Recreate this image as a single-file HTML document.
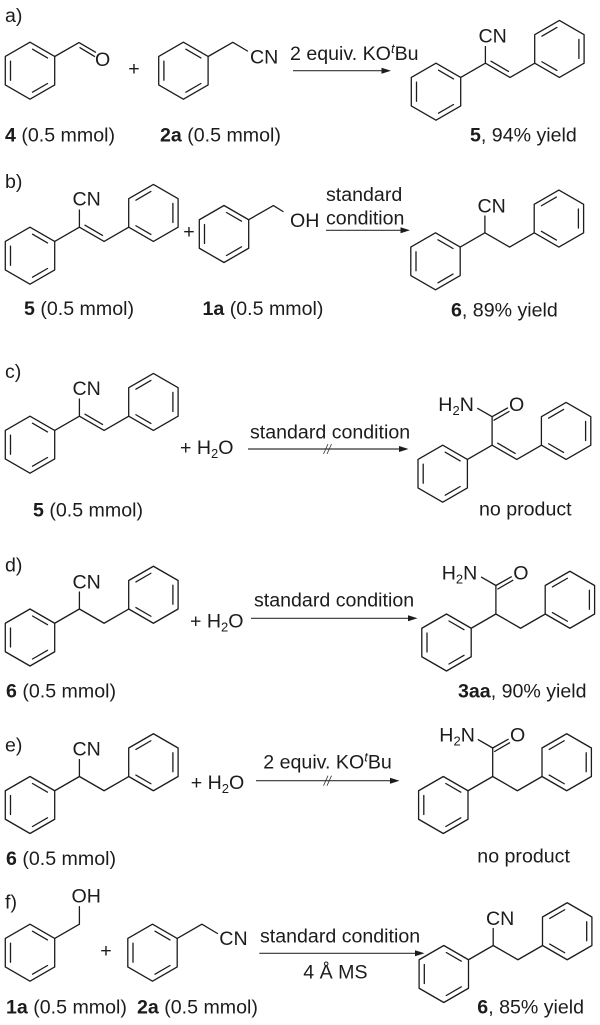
<!DOCTYPE html>
<html><head><meta charset="utf-8"><style>
html,body{margin:0;padding:0;background:#fff}
svg{display:block}
text{font-family:"Liberation Sans",Arial,sans-serif;font-size:19.6px;fill:#1c1c1c}
.b{font-weight:bold}
.ln{fill:none;stroke:#1c1c1c;stroke-width:1.3;stroke-linecap:round;stroke-linejoin:round}
.ar{stroke:#333;stroke-width:1.2;fill:none}
.hd{fill:#1c1c1c;stroke:none}
.sl{stroke:#333;stroke-width:.8;fill:none}
</style></head><body>
<svg width="600" height="1025" viewBox="0 0 600 1025" xmlns="http://www.w3.org/2000/svg">
<defs>
<g id="A" class="ln"><path d="M0-28.5L24.7-14.25V14.25L0 28.5L-24.7 14.25V-14.25Z M-19.5-9.5V9.5 M2.5-21.5L17.5-12.8 M2.5 21.5L17.5 12.8"/></g>
<g id="B" class="ln"><path d="M0-28.5L24.7-14.25V14.25L0 28.5L-24.7 14.25V-14.25Z M19.5-9.5V9.5 M-2.5-21.5L-17.5-12.8 M-2.5 21.5L-17.5 12.8"/></g>
<g id="S"><use href="#A"/><use href="#B" x="123.4" y="-42.75"/><path class="ln" d="M24.7-14.25L49.4-28.5L74.1-14.25L98.8-28.5 M55-30.5L72.5-20.3"/></g>
<g id="R"><use href="#A"/><use href="#B" x="123.4" y="-42.75"/><path class="ln" d="M24.7-14.25L49.4-28.5L74.1-14.25L98.8-28.5"/></g>
</defs>

<!-- a -->
<text x="5" y="22">a)</text>
<use href="#A" x="30" y="70.7"/>
<path class="ln" d="M54.7 56.5L79 42.6L95.5 52.2 M80 47.7L94.5 56.4"/>
<text x="95" y="66">O</text>
<text x="128.3" y="75">+</text>
<use href="#A" x="183.4" y="70.7"/>
<path class="ln" d="M208.1 56.5L232.8 42.3L247.5 51"/>
<text x="250" y="63.5">CN</text>
<text x="290" y="60">2 equiv. KO<tspan font-style="italic" font-size="13" dy="-7">t</tspan><tspan dy="7">Bu</tspan></text>
<path class="ar" d="M293 70.7H384"/><path class="hd" d="M391 70.7L381.5 67.7V73.7Z"/>
<use href="#S" x="436" y="91.7"/>
<path class="ln" d="M485.4 63.2V46.5"/>
<text x="478.5" y="42.7">CN</text>
<text x="5" y="141.7"><tspan class="b">4</tspan> (0.5 mmol)</text>
<text x="160" y="141.7"><tspan class="b">2a</tspan> (0.5 mmol)</text>
<text x="470" y="141.7"><tspan class="b">5</tspan>, 94% yield</text>

<!-- b -->
<text x="5" y="188">b)</text>
<use href="#S" x="30" y="255.7"/>
<path class="ln" d="M79.4 227.2V210"/>
<text x="72.5" y="205.7">CN</text>
<text x="183.3" y="238">+</text>
<use href="#A" x="224" y="234"/>
<path class="ln" d="M248.7 219.7L273.4 205.6L283 211.5"/>
<text x="290" y="227">OH</text>
<text x="326" y="201">standard</text>
<text x="326" y="224.3">condition</text>
<path class="ar" d="M326 230.3H403"/><path class="hd" d="M410 230.3L400.5 227.3V233.3Z"/>
<use href="#R" x="435.5" y="261.3"/>
<path class="ln" d="M484.9 232.8V216"/>
<text x="477.5" y="212.3">CN</text>
<text x="24" y="315"><tspan class="b">5</tspan> (0.5 mmol)</text>
<text x="202.5" y="315"><tspan class="b">1a</tspan> (0.5 mmol)</text>
<text x="451" y="316.7"><tspan class="b">6</tspan>, 89% yield</text>

<!-- c -->
<text x="5" y="378">c)</text>
<use href="#S" x="30" y="444.7"/>
<path class="ln" d="M79.4 416.2V399"/>
<text x="72.5" y="395">CN</text>
<text x="180" y="454">+ H<tspan font-size="13" dy="4">2</tspan><tspan dy="-4">O</tspan></text>
<text x="250" y="438.3">standard condition</text>
<path class="ar" d="M248 449H401"/><path class="hd" d="M408.5 449L399 446V452Z"/>
<path class="sl" d="M323.5 454L328 444 M327 454L331.5 444"/>
<use href="#S" x="442.7" y="473.7"/>
<path class="ln" d="M492.1 445.2V416.7L477.7 408.4 M492.1 416.7L507.5 408 M494 420.2L509 411.5"/>
<text x="438.3" y="411">H<tspan font-size="13" dy="4">2</tspan><tspan dy="-4">N</tspan></text>
<text x="509" y="411">O</text>
<text x="33" y="516.7"><tspan class="b">5</tspan> (0.5 mmol)</text>
<text x="479" y="515.7">no product</text>

<!-- d -->
<text x="5" y="571.7">d)</text>
<use href="#R" x="30" y="637.5"/>
<path class="ln" d="M79.4 609V592"/>
<text x="72.5" y="588.3">CN</text>
<text x="190" y="627.3">+ H<tspan font-size="13" dy="4">2</tspan><tspan dy="-4">O</tspan></text>
<text x="254" y="606.7">standard condition</text>
<path class="ar" d="M251 618.3H410"/><path class="hd" d="M417.5 618.3L408 615.3V621.3Z"/>
<use href="#R" x="446.5" y="642.5"/>
<path class="ln" d="M495.9 614V585.5L481.5 577.2 M495.9 585.5L511.3 576.8 M497.8 589L512.8 580.3"/>
<text x="441.7" y="579.3">H<tspan font-size="13" dy="4">2</tspan><tspan dy="-4">N</tspan></text>
<text x="513.3" y="579.3">O</text>
<text x="6" y="697.3"><tspan class="b">6</tspan> (0.5 mmol)</text>
<text x="458" y="697.3"><tspan class="b">3aa</tspan>, 90% yield</text>

<!-- e -->
<text x="5" y="751.7">e)</text>
<use href="#R" x="30" y="805"/>
<path class="ln" d="M79.4 776.5V759.5"/>
<text x="72.5" y="755.3">CN</text>
<text x="190.7" y="789">+ H<tspan font-size="13" dy="4">2</tspan><tspan dy="-4">O</tspan></text>
<text x="263.3" y="768.3">2 equiv. KO<tspan font-style="italic" font-size="13" dy="-7">t</tspan><tspan dy="7">Bu</tspan></text>
<path class="ar" d="M256 780.7H392"/><path class="hd" d="M399.5 780.7L390 777.7V783.7Z"/>
<path class="sl" d="M323.5 785.7L328 775.7 M327 785.7L331.5 775.7"/>
<use href="#R" x="443.3" y="805"/>
<path class="ln" d="M492.7 776.5V748L478.3 739.7 M492.7 748L508.1 739.3 M494.6 751.5L509.6 742.8"/>
<text x="439.3" y="741.7">H<tspan font-size="13" dy="4">2</tspan><tspan dy="-4">N</tspan></text>
<text x="510" y="741.7">O</text>
<text x="6" y="865"><tspan class="b">6</tspan> (0.5 mmol)</text>
<text x="477.3" y="862.3">no product</text>

<!-- f -->
<text x="5" y="908.3">f)</text>
<use href="#A" x="30" y="952.7"/>
<path class="ln" d="M54.7 938.4L79.4 924.2V906.7"/>
<text x="71.5" y="902.3">OH</text>
<text x="100.3" y="957">+</text>
<use href="#A" x="152.5" y="952.7"/>
<path class="ln" d="M177.2 938.4L201.9 924.2L217.5 933.5"/>
<text x="219.3" y="945">CN</text>
<text x="260" y="942.7">standard condition</text>
<path class="ar" d="M259.3 953.3H417"/><path class="hd" d="M424.5 953.3L415 950.3V956.3Z"/>
<text x="303.3" y="978.3">4 Å MS</text>
<use href="#R" x="443.8" y="974"/>
<path class="ln" d="M493.2 945.5V928.5"/>
<text x="486" y="925">CN</text>
<text x="6" y="1013.3"><tspan class="b">1a</tspan> (0.5 mmol)</text>
<text x="137" y="1013.3"><tspan class="b">2a</tspan> (0.5 mmol)</text>
<text x="477.3" y="1013.3"><tspan class="b">6</tspan>, 85% yield</text>
</svg>
</body></html>
